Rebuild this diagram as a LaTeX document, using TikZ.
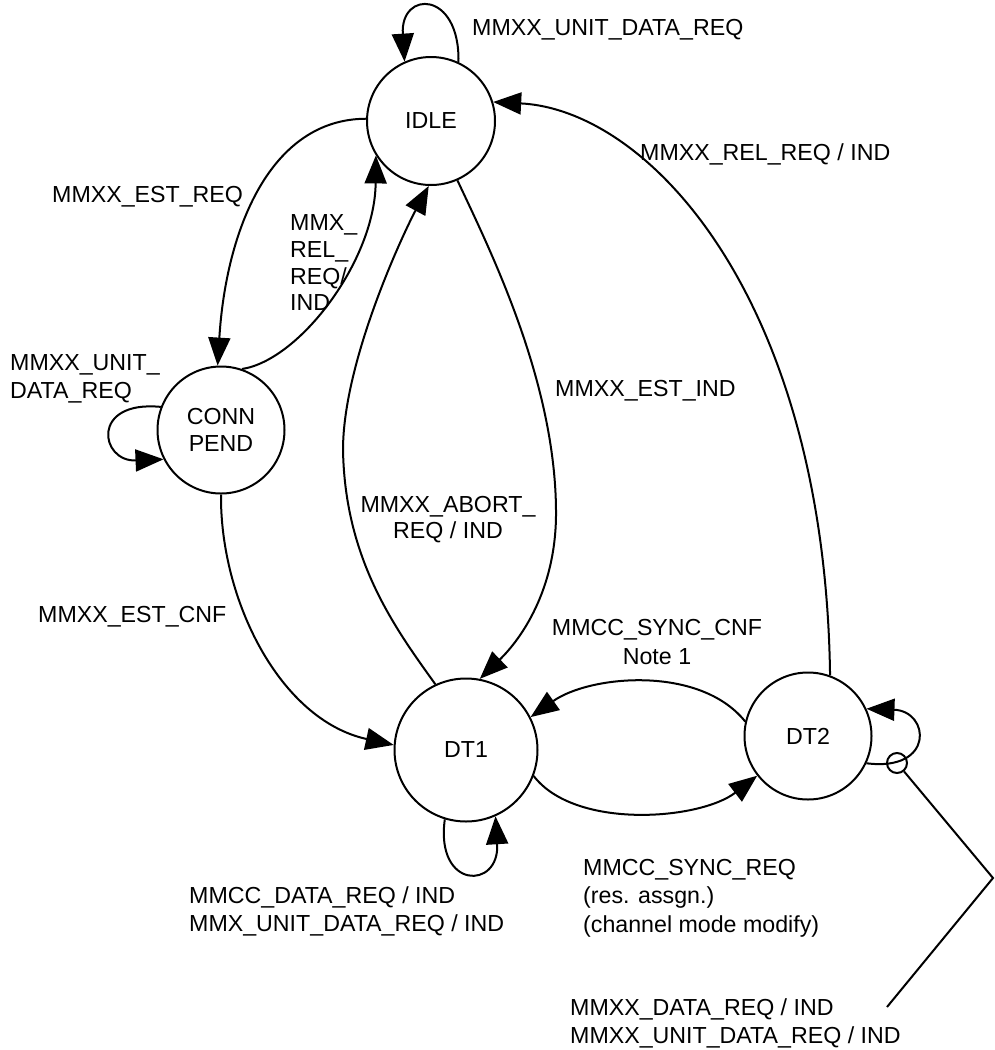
\documentclass[tikz,border=0pt]{standalone}
\usepackage{fontspec}
\setmainfont{Liberation Sans}
\usetikzlibrary{arrows.meta}
\newcommand{\figfont}{\fontsize{23.2}{27.5}\selectfont}
\begin{document}
\begin{tikzpicture}[x=1pt,y=-1pt,
  state/.style={circle, draw, line width=2pt, minimum size=#1, inner sep=0pt, align=center, font=\figfont},
  tr/.style={line width=2pt, -{Triangle[length=28pt,width=22pt]}},
  plain/.style={line width=2pt},
  lbl/.style={inner sep=0pt, font=\figfont, align=left},
  clbl/.style={inner sep=0pt, font=\figfont, align=center}]
\useasboundingbox (0,0) rectangle (995,1050);
\fill[white] (0,0) rectangle (995,1050);

% states
\node[state=128pt] (idle) at (431,121) {IDLE};
\node[state=127pt] (conn) at (221,430) {CONN\\PEND};
\node[state=143pt] (dt1) at (466,750) {DT1};
\node[state=127pt] (dt2) at (808,736) {DT2};

% transitions
\draw[tr] (idle.65) .. controls (460,-10) and (400,-10) .. (idle.114);
\draw[tr] (idle.178) .. controls (270,119) and (226,230) .. (conn.93);
\draw[tr] (conn.71) .. controls (300,360) and (375,260) .. (idle.212);
\draw[tr] (dt1.115) .. controls (395,628) and (345,560) .. (343,450)
          .. controls (343,360) and (405,230) .. (idle.268);
\draw[tr] (idle.294) .. controls (490,250) and (555,380) .. (556,510)
          .. controls (557,590) and (520,640) .. (dt1.79);
\draw[tr] (conn.270) .. controls (220,600) and (280,720) .. (dt1.176);
\draw[tr] (dt2.167) .. controls (700,665) and (590,675) .. (dt1.27);
\draw[tr] (dt1.339) .. controls (575,830) and (700,820) .. (dt2.218);
\draw[tr] (dt2.70) .. controls (825,300) and (650,110) .. (idle.17);
\draw[tr] (dt1.253) .. controls (435,890) and (500,890) .. (dt1.294);
\draw[tr] (conn.159) .. controls (90,400) and (100,462) .. (conn.207);
\draw[tr] (dt2.335) .. controls (935,772) and (930,711) .. (dt2.25);

% annotation connector
\node[circle, draw, line width=2pt, minimum size=20pt, inner sep=0pt] (tap) at (897,763) {};
\coordinate (corner) at (993,878);
\coordinate (lblend) at (887,1007);
\draw[plain] (tap) -- (corner) -- (lblend);

% labels
\node[lbl, anchor=north west] (l1) at (472,18.7) {MMXX\_UNIT\_DATA\_REQ};
\node[lbl, anchor=north west] (l2) at (640,143.7) {MMXX\_REL\_REQ / IND};
\node[lbl, anchor=north west] (l3) at (52,185.7) {MMXX\_EST\_REQ};
\node[lbl, anchor=north west, font=\fontsize{23.2}{26.7}\selectfont] (l4) at (290,214.7) {MMX\_\\REL\_\\REQ/\\IND};
\node[lbl, anchor=north west] (l5) at (10,354.7) {MMXX\_UNIT\_\\DATA\_REQ};
\node[lbl, anchor=north west] (l6) at (555,379.7) {MMXX\_EST\_IND};
\node[clbl, anchor=north, font=\fontsize{23.2}{26.5}\selectfont] (l7) at (448,495.7) {MMXX\_ABORT\_\\REQ / IND};
\node[lbl, anchor=north west] (l8) at (38,605.7) {MMXX\_EST\_CNF};
\node[clbl, anchor=north, font=\fontsize{23.2}{29}\selectfont] (l9) at (657,618.7) {MMCC\_SYNC\_CNF\\Note 1};
\node[lbl, anchor=north west] (l10) at (189,886.7) {MMCC\_DATA\_REQ / IND\\MMX\_UNIT\_DATA\_REQ / IND};
\node[lbl, anchor=north west, font=\fontsize{23.2}{28.5}\selectfont] (l11) at (583,858.7) {MMCC\_SYNC\_REQ\\(res. assgn.)\\(channel mode modify)};
\node[lbl, anchor=north west] (l12) at (570,998.7) {MMXX\_DATA\_REQ / IND\\MMXX\_UNIT\_DATA\_REQ / IND};
\end{tikzpicture}
\end{document}
